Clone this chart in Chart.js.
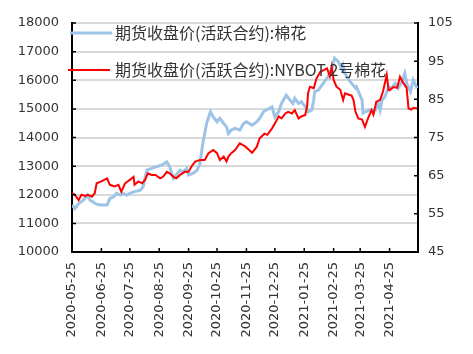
<!DOCTYPE html>
<html>
<head>
<meta charset="utf-8">
<script src="https://cdn.jsdelivr.net/npm/chart.js@4/dist/chart.umd.min.js"></script>
<style>
  html, body { margin: 0; padding: 0; background: #fff; }
</style>
</head>
<body>
<canvas id="chart" width="473" height="354"></canvas>
<script>
// dates on the x axis are counted in days from this day
const startDate = '2020-05-25';
const tickLabels = ['2020-05-25', '2020-06-25', '2020-07-25', '2020-08-25', '2020-09-25', '2020-10-25',
  '2020-11-25', '2020-12-25', '2021-01-25', '2021-02-25', '2021-03-25', '2021-04-25'];
const seriesNames = ['期货收盘价(活跃合约):棉花', '期货收盘价(活跃合约):NYBOT 2号棉花'];

// 郑棉 (left axis)
const cnDays = [0, 3, 7, 12, 16, 19, 22, 26, 30, 37, 40, 44, 47, 51, 54, 58, 61, 65, 72, 75,
  79, 84, 89, 95, 100, 103, 107, 110, 114, 117, 121, 123, 128, 132, 135, 138, 142, 146, 149, 153,
  156, 160, 163, 165, 168, 172, 177, 181, 184, 190, 195, 198, 202, 205, 211, 214, 218, 221, 226, 230,
  233, 235, 239, 242, 246, 249, 253, 255, 256, 260, 265, 270, 274, 277, 281, 285, 286, 288, 292, 295,
  299, 300, 306, 307, 310, 314, 320, 323, 325, 327, 330, 334, 337, 341, 344, 348, 351, 353, 357, 360, 364];
const cnValues = [11640, 11520, 11690, 11810, 11990, 11810, 11750, 11670, 11640, 11640, 11870, 11930, 12050, 11990, 12050, 11990, 12050, 12100, 12160, 12280,
  12860, 12920, 12980, 13040, 13150, 12980, 12570, 12690, 12860, 12800, 12920, 12690, 12750, 12860, 13090, 13790, 14490, 14900, 14720, 14550,
  14670, 14490, 14370, 14140, 14260, 14320, 14260, 14490, 14550, 14430, 14550, 14670, 14900, 14960, 15070, 14720, 14900, 15190, 15480, 15310,
  15190, 15370, 15190, 15250, 15080, 14900, 14960, 15310, 15600, 15660, 15890, 16120, 16420, 16770, 16650, 16360, 16500, 16240, 16010, 15890,
  15730, 15770, 15310, 14850, 14900, 14960, 14960, 15200, 14960, 15310, 15420, 15770, 15720, 15890, 15720, 15950, 16240, 15890, 15600, 16010, 15720];

// NYBOT (right axis)
const usDays = [0, 3, 7, 10, 14, 17, 21, 24, 26, 31, 37, 40, 45, 49, 52, 56, 61, 65, 66, 70,
  74, 77, 80, 84, 88, 93, 96, 100, 103, 107, 110, 114, 119, 123, 126, 130, 135, 140, 144, 149,
  153, 156, 160, 163, 165, 168, 172, 177, 183, 190, 195, 198, 203, 206, 211, 214, 218, 221, 225, 228,
  232, 235, 239, 242, 246, 248, 249, 251, 255, 258, 262, 265, 269, 272, 274, 276, 279, 283, 286, 288,
  292, 295, 297, 299, 302, 306, 309, 313, 316, 318, 321, 325, 328, 332, 334, 335, 339, 343, 346, 349,
  353, 355, 358, 360, 364];
const usValues = [60.4, 60.0, 58.6, 60.0, 59.7, 60.0, 59.5, 60.4, 63.0, 63.5, 64.3, 62.6, 62.2, 62.6, 60.8, 63.0, 63.9, 64.7, 62.6, 63.5,
  63.0, 63.9, 65.6, 65.2, 65.2, 64.3, 64.7, 66.0, 65.6, 64.7, 64.3, 65.2, 66.0, 66.0, 67.4, 68.7, 69.1, 69.1, 70.9, 71.7,
  70.9, 69.1, 70.0, 68.7, 70.0, 70.9, 71.7, 73.5, 72.6, 71.0, 72.6, 74.8, 76.0, 75.7, 77.4, 78.7, 80.5, 80.0, 81.3, 81.7,
  81.3, 82.2, 80.0, 80.5, 80.9, 83.1, 86.6, 88.3, 87.9, 90.5, 92.2, 92.6, 93.1, 91.0, 93.6, 90.1, 88.3, 87.5, 84.8, 86.6,
  86.2, 86.0, 84.8, 81.8, 80.0, 79.7, 77.8, 80.5, 82.2, 81.0, 84.4, 84.8, 87.0, 91.4, 87.4, 87.4, 88.2, 88.0, 90.9, 89.5,
  88.0, 82.6, 82.3, 82.8, 82.6];

const dayMs = 24 * 3600 * 1000;
const dayOf = s => Math.round((Date.parse(s) - Date.parse(startDate)) / dayMs);
const tickDays = tickLabels.map(dayOf);

const toPoints = (days, vals) => days.map((d, i) => ({ x: d, y: vals[i] }));

const textColor = '#333';
const tickFont = { family: 'DejaVu Sans', size: 13 };

// small tick marks drawn on the inside of the axes, like the original
const innerTicks = {
  id: 'innerTicks',
  afterDatasetsDraw(chart) {
    const { ctx, chartArea: a, scales } = chart;
    ctx.save();
    ctx.strokeStyle = '#000';
    ctx.lineWidth = 1.5;
    ctx.beginPath();
    scales.y.ticks.forEach(t => {
      const y = scales.y.getPixelForValue(t.value);
      ctx.moveTo(a.left, y); ctx.lineTo(a.left + 4, y);
    });
    scales.y1.ticks.forEach(t => {
      const y = scales.y1.getPixelForValue(t.value);
      ctx.moveTo(a.right, y); ctx.lineTo(a.right - 4, y);
    });
    tickDays.forEach(d => {
      const x = scales.x.getPixelForValue(d);
      ctx.moveTo(x, a.bottom); ctx.lineTo(x, a.bottom - 4);
    });
    ctx.stroke();
    ctx.restore();
  }
};

// legend sits inside the plot, over the lines
const insideLegend = {
  id: 'insideLegend',
  afterDatasetsDraw(chart) {
    const ctx = chart.ctx;
    const rows = [
      { ds: chart.data.datasets[1], x0: 70, y: 33 },
      { ds: chart.data.datasets[0], x0: 68, y: 70 }
    ];
    ctx.save();
    ctx.font = '16px "Noto Sans CJK SC"';
    ctx.textBaseline = 'middle';
    ctx.fillStyle = textColor;
    rows.forEach(r => {
      ctx.strokeStyle = r.ds.borderColor;
      ctx.lineWidth = r.ds.borderWidth;
      ctx.beginPath();
      ctx.moveTo(r.x0, r.y); ctx.lineTo(r.x0 + 42, r.y);
      ctx.stroke();
      ctx.fillText(r.ds.label, 115, r.y);
    });
    ctx.restore();
  }
};

new Chart(document.getElementById('chart'), {
  type: 'line',
  data: {
    datasets: [
      {
        label: seriesNames[1],
        data: toPoints(usDays, usValues),
        yAxisID: 'y1',
        borderColor: '#ff0000',
        borderWidth: 2,
        pointRadius: 0,
        tension: 0
      },
      {
        label: seriesNames[0],
        data: toPoints(cnDays, cnValues),
        yAxisID: 'y',
        borderColor: '#9dc3e6',
        borderWidth: 3,
        pointRadius: 0,
        tension: 0
      }
    ]
  },
  options: {
    responsive: false,
    animation: false,
    devicePixelRatio: 1,
    layout: { padding: { top: 23, left: 0, right: 0, bottom: 0 } },
    plugins: {
      legend: { display: false },
      tooltip: { enabled: false }
    },
    scales: {
      x: {
        type: 'linear',
        min: 0,
        max: dayOf('2021-05-25'),
        afterBuildTicks: s => { s.ticks = tickDays.map(v => ({ value: v })); },
        afterFit: s => { s.height = 102; },
        grid: { display: false, drawTicks: false },
        border: { color: '#000', width: 2 },
        ticks: {
          autoSkip: false,
          minRotation: 90,
          maxRotation: 90,
          padding: 10,
          color: textColor,
          font: tickFont,
          callback: v => tickLabels[tickDays.indexOf(v)]
        }
      },
      y: {
        position: 'left',
        min: 10000,
        max: 18000,
        afterFit: s => { s.width = 72; },
        grid: { color: '#d9d9d9', lineWidth: 2, drawTicks: false },
        border: { color: '#000', width: 2 },
        ticks: { stepSize: 1000, padding: 13, color: textColor, font: tickFont, callback: v => String(v) }
      },
      y1: {
        position: 'right',
        min: 45,
        max: 105,
        afterFit: s => { s.width = 55; },
        grid: { display: false, drawTicks: false },
        border: { color: '#000', width: 2 },
        ticks: { stepSize: 10, padding: 10, color: textColor, font: tickFont, callback: v => String(v) }
      }
    }
  },
  plugins: [innerTicks, insideLegend]
});
</script>
</body>
</html>
